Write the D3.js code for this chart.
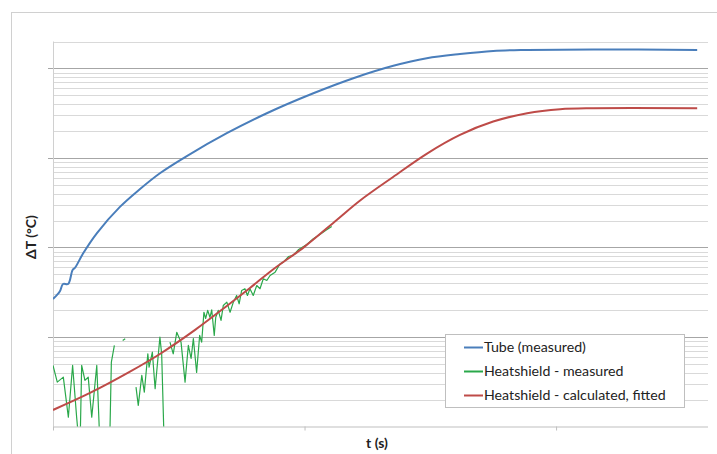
<!DOCTYPE html>
<html>
<head>
<meta charset="utf-8">
<script src="https://cdn.jsdelivr.net/npm/d3@7"></script>
<style>
  body { margin: 0; background: #fff; }
  svg { display: block; font-family: Lato, "Open Sans", sans-serif; }
  .grid-minor { stroke: #d9d9d9; stroke-width: 1; }
  .grid-major { stroke: #a6a6a6; stroke-width: 1; }
</style>
</head>
<body>
<div id="chart"></div>
<script>
// time in s, temperature difference in °C (log axis, no tick labels shown)
const tubeT = [0, 16, 28, 40, 60, 78, 87, 120, 174, 266, 346, 425, 532, 691, 850, 1035, 1194, 1353, 1486, 1618, 1750, 1885, 2147, 2561];
const tubeV = [0.266, 0.295, 0.327, 0.391, 0.391, 0.561, 0.59, 0.861, 1.44, 2.84, 4.5, 6.75, 10.5, 18.9, 31.6, 52.8, 77.8, 107, 130, 145, 157, 161, 163, 161];

const calcT = [0, 147, 306, 425, 565, 696, 783, 876, 998, 1128, 1221, 1352, 1487, 1618, 1750, 1885, 2016, 2147, 2561];
const calcV = [0.0153, 0.0237, 0.041, 0.0646, 0.12, 0.228, 0.353, 0.571, 1.01, 2.03, 3.35, 6.13, 11.2, 18.1, 25.5, 31.6, 35.0, 35.9, 35.9];

// null = gap in the measured signal
const shieldT = [0, 17, 41, 61, 78, 94, 107, 114, 127, 140, 154, 174, 191, 223, 232, 244, null,
  277, 287, null,
  330, 339, 353, 363, 377, 382, 395, 406, 425, 432, 447, null,
  465, 478, 492, 509, 525, 538, 549, 558, 571, 583, 591, 600, 607, 615, 624, 631, 641, 647, 657, 668, 677,
  691, 704, 717, 730, 740, 750, 763, 773, 783, 796, 810, 823, 836, 850, 863, 883, 903, 916, 936, 955, 975,
  1009, 1035, 1055, 1088, 1108];
const shieldV = [0.0481, 0.0313, 0.0356, 0.0127, 0.0481, 0.0127, 0.005, 0.0481, 0.0327, 0.0356, 0.0127, 0.0481, 0.003, 0.003, 0.0522, 0.0804, null,
  0.0914, 0.0955, null,
  0.0275, 0.0172, 0.0372, 0.0242, 0.0649, 0.046, 0.0676, 0.0264, 0.0995, 0.0649, 0.002, null,
  0.0875, 0.0649, 0.113, 0.0875, 0.0313, 0.0804, 0.0575, 0.0962, 0.0401, 0.104, 0.0875, 0.189, 0.161, 0.198, 0.166, 0.201, 0.104, 0.166, 0.198, 0.153, 0.225,
  0.245, 0.189, 0.245, 0.291, 0.235, 0.331, 0.346, 0.291, 0.346, 0.291, 0.376, 0.346, 0.447, 0.428, 0.486, 0.53, 0.658, 0.686, 0.792, 0.815, 0.942,
  1.08, 1.25, 1.36, 1.58, 1.72];

const xTicks = [0, 1000, 2000];
const seriesNames = ['Tube (measured)', 'Heatshield - measured', 'Heatshield - calculated, fitted'];
const seriesColors = ['#4a7ebb', '#2aa84a', '#be4b48'];

const width = 717, height = 454;
const plot = { left: 53, right: 708, top: 41.5, bottom: 426.5 };

const svg = d3.select('#chart').append('svg')
    .attr('width', width)
    .attr('height', height);

// chart area border (runs off the image on right and bottom)
svg.append('rect')
    .attr('x', 11.5).attr('y', 12.5)
    .attr('width', 720).attr('height', 460)
    .attr('fill', '#fff')
    .attr('stroke', '#d0d0d0');

const x = d3.scaleLinear().domain([0, 2604]).range([plot.left, plot.right]);
const y = d3.scaleLog().domain([0.01, 200]).range([plot.bottom, plot.top]);

// gridlines: every 1..9 inside each decade
const gridVals = [];
[0.01, 0.1, 1, 10, 100].forEach(dec => {
    for (let m = 1; m <= 9; m++) {
        const v = dec * m;
        if (v <= 200.0001) gridVals.push({ v: v, major: m === 1 });
    }
});

const grid = svg.append('g');
grid.selectAll('line')
    .data(gridVals.filter(d => d.v > 0.0100001))
    .enter().append('line')
    .attr('class', d => d.major ? 'grid-major' : 'grid-minor')
    .attr('x1', d => d.major ? plot.left - 5 : plot.left)
    .attr('x2', plot.right)
    .attr('y1', d => Math.round(y(d.v)) + 0.5)
    .attr('y2', d => Math.round(y(d.v)) + 0.5);

// y axis line
svg.append('line')
    .attr('x1', plot.left + 0.5).attr('x2', plot.left + 0.5)
    .attr('y1', plot.top).attr('y2', plot.bottom)
    .attr('stroke', '#d0d0d0');

// x axis
const xAxis = svg.append('g')
    .attr('transform', `translate(0,${plot.bottom})`)
    .call(d3.axisBottom(x).tickValues(xTicks).tickSize(4).tickFormat(''));
xAxis.select('.domain').attr('stroke', '#bfbfbf').attr('d', `M${plot.left},0.5H${plot.right}`);
xAxis.selectAll('.tick line').attr('stroke', '#bfbfbf');

svg.append('clipPath').attr('id', 'plotclip')
    .append('rect')
    .attr('x', plot.left).attr('y', plot.top)
    .attr('width', plot.right - plot.left).attr('height', plot.bottom - plot.top);

const lineSmooth = d3.line()
    .x(d => x(d[0]))
    .y(d => y(d[1]))
    .curve(d3.curveCatmullRom.alpha(0.5));

const lineRaw = d3.line()
    .defined(d => d[0] != null && d[1] != null)
    .x(d => x(d[0]))
    .y(d => y(d[1]));

const gLines = svg.append('g').attr('clip-path', 'url(#plotclip)');

gLines.append('path')
    .datum(d3.zip(shieldT, shieldV))
    .attr('d', lineRaw)
    .attr('fill', 'none')
    .attr('stroke', seriesColors[1])
    .attr('stroke-width', 1.2)
    .attr('stroke-linejoin', 'round');

gLines.append('path')
    .datum(d3.zip(calcT, calcV))
    .attr('d', lineSmooth)
    .attr('fill', 'none')
    .attr('stroke', seriesColors[2])
    .attr('stroke-width', 2);

gLines.append('path')
    .datum(d3.zip(tubeT, tubeV))
    .attr('d', lineSmooth)
    .attr('fill', 'none')
    .attr('stroke', seriesColors[0])
    .attr('stroke-width', 2);

// axis titles
svg.append('text')
    .attr('x', 377).attr('y', 448)
    .attr('text-anchor', 'middle')
    .attr('font-size', 14).attr('font-weight', 'bold')
    .attr('fill', '#222')
    .text('t (s)');

svg.append('text')
    .attr('transform', 'translate(36,237) rotate(-90)')
    .attr('text-anchor', 'middle')
    .attr('font-size', 14).attr('font-weight', 'bold')
    .attr('fill', '#222')
    .text('ΔT (°C)');

// legend
const legend = svg.append('g');
legend.append('rect')
    .attr('x', 445.5).attr('y', 334.5)
    .attr('width', 239).attr('height', 73)
    .attr('fill', '#fff')
    .attr('stroke', '#bfbfbf');

const items = legend.selectAll('g.item')
    .data(seriesNames)
    .enter().append('g')
    .attr('class', 'item')
    .attr('transform', (d, i) => `translate(0,${347.5 + i * 24})`);

items.append('line')
    .attr('x1', 464).attr('x2', 483)
    .attr('stroke', (d, i) => seriesColors[i])
    .attr('stroke-width', 2);

items.append('text')
    .attr('x', 484).attr('dy', '0.35em')
    .attr('font-size', 14.2)
    .attr('fill', '#222')
    .text(d => d);
</script>
</body>
</html>
